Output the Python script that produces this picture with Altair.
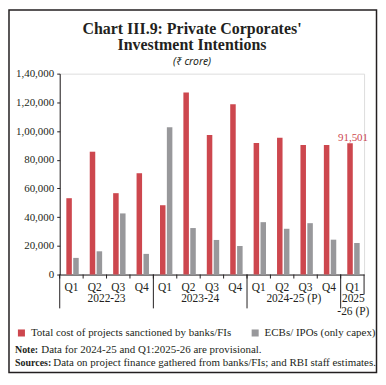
import altair as alt
import pandas as pd

quarters = ["Q1", "Q2", "Q3", "Q4", "Q1", "Q2", "Q3", "Q4", "Q1", "Q2", "Q3", "Q4", "Q1"]
years = ["2022-23"] * 4 + ["2023-24"] * 4 + ["2024-25 (P)"] * 4 + ["2025-26 (P)"]
sanctioned = [53200, 85600, 56700, 70600, 48300, 126800, 97200, 118700, 91600, 95300, 90200, 90200, 91501]
ecb_ipo = [11600, 16200, 42600, 14400, 102700, 32400, 24100, 19900, 36500, 31900, 35800, 24300, 22000]
series_names = ["Total cost of projects sanctioned by banks/FIs", "ECBs/ IPOs (only capex)"]
series_colors = ["#CD474E", "#98989B"]
y_ticks = [0, 20000, 40000, 60000, 80000, 100000, 120000, 140000]
group_names = ["2022-23", "2023-24", "2024-25 (P)"]
group_mid_index = [2, 6, 10]
group_start_index = [0, 4, 8, 12]
last_group_label = "2025\n-26 (P)"

keys = [f"{q}|{y}" for q, y in zip(quarters, years)]
rows = []
for k, a, b in zip(keys, sanctioned, ecb_ipo):
    rows.append({"key": k, "series": series_names[0], "value": a})
    rows.append({"key": k, "series": series_names[1], "value": b})
df = pd.DataFrame(rows)

W, H = 306, 202
SERIF = "Liberation Serif"
INK = "#231F20"

xscale = alt.Scale(domain=keys, paddingInner=0, paddingOuter=0)
yscale = alt.Scale(domain=[0, 140000], nice=False)
x_enc = alt.X("key:N", scale=xscale, sort=keys,
              axis=alt.Axis(title=None, labelExpr="split(datum.label,'|')[0]",
                            ticks=False, labelAngle=0, labelPadding=7,
                            labelFont=SERIF, labelFontSize=11.5, labelColor=INK,
                            domainColor=INK, domainWidth=1))
xoff = alt.XOffset("series:N", sort=series_names,
                   scale=alt.Scale(domain=series_names, paddingInner=0.2, paddingOuter=0.8, align=0.6))

ylabel_expr = ("datum.value == 0 ? '0' : (datum.value >= 100000 ? floor(datum.value/100000) + ',' + "
               "format(floor((datum.value % 100000)/1000), '02') + ',000' : format(datum.value, ','))")
y_axis = alt.Axis(title=None, values=y_ticks, labelExpr=ylabel_expr, grid=False,
                  tickSize=3, tickColor=INK, domainColor=INK, labelFont=SERIF,
                  labelFontSize=11, labelColor=INK, labelPadding=3,
                  labelOverlap=False, labelBound=False)

bars = alt.Chart(df).mark_bar().encode(
    x=x_enc,
    xOffset=xoff,
    y=alt.Y("value:Q", scale=yscale, axis=y_axis),
    color=alt.Color("series:N", sort=series_names,
                    scale=alt.Scale(domain=series_names, range=series_colors),
                    legend=alt.Legend(title=None, orient="none", direction="horizontal",
                                      legendX=-44, legendY=255, symbolType="square",
                                      symbolSize=50, symbolStrokeWidth=0, labelFont=SERIF,
                                      labelFontSize=11, labelColor=INK, columnPadding=18,
                                      symbolOffset=0, labelOffset=4, labelLimit=300)),
)

last_df = df[(df["key"] == keys[-1]) & (df["series"] == series_names[0])]
annot = alt.Chart(last_df).mark_text(dy=-5, dx=3, fontSize=11, font=SERIF, color=series_colors[0]).encode(
    x=alt.X("key:N", scale=xscale, sort=keys),
    xOffset=xoff,
    y=alt.Y("value:Q", scale=yscale, axis=y_axis),
    text=alt.Text("value:Q", format=","),
)

tick_df = pd.DataFrame({"key": keys})
ticks = alt.Chart(tick_df).mark_rule(color=INK, strokeWidth=1).encode(
    x=alt.X("key:N", scale=xscale, sort=keys, bandPosition=0),
    y=alt.value(H), y2=alt.value(H + 4),
)

sep_df = pd.DataFrame({"key": [keys[i] for i in group_start_index]})
seps = alt.Chart(sep_df).mark_rule(color=INK, strokeWidth=1).encode(
    x=alt.X("key:N", scale=xscale, sort=keys, bandPosition=0),
    y=alt.value(H), y2=alt.value(H + 34),
)

end_df = pd.DataFrame({"key": [keys[-1]]})
end_line = alt.Chart(end_df).mark_rule(color=INK, strokeWidth=1).encode(
    x=alt.X("key:N", scale=xscale, sort=keys, bandPosition=1),
    y=alt.value(H), y2=alt.value(H + 20),
)

grp_df = pd.DataFrame({"key": [keys[i] for i in group_mid_index], "label": group_names})
grp = alt.Chart(grp_df).mark_text(font=SERIF, fontSize=11.5, color=INK, baseline="alphabetic").encode(
    x=alt.X("key:N", scale=xscale, sort=keys, bandPosition=0),
    y=alt.value(H + 28),
    text="label:N",
)

last_grp_df = pd.DataFrame({"key": [keys[-1]], "label": [last_group_label]})
last_grp = alt.Chart(last_grp_df).mark_text(font=SERIF, fontSize=11.5, color=INK, baseline="alphabetic",
                                            lineBreak="\n", lineHeight=13, dx=1).encode(
    x=alt.X("key:N", scale=xscale, sort=keys, bandPosition=0.5),
    y=alt.value(H + 28),
    text="label:N",
)

one = pd.DataFrame({"a": [0]})
NOTE_FS = 11
BOLD_FS = 10
note_b = alt.Chart(one).mark_text(font=SERIF, fontSize=BOLD_FS, fontWeight="bold", color=INK, align="left",
                                  baseline="alphabetic").encode(
    x=alt.value(-45), y=alt.value(280.5), text=alt.value("Note:"))
note_t = alt.Chart(one).mark_text(font=SERIF, fontSize=NOTE_FS, color=INK, align="left",
                                  baseline="alphabetic").encode(
    x=alt.value(-18.5), y=alt.value(280.5), text=alt.value("Data for 2024-25 and Q1:2025-26 are provisional."))
src_b = alt.Chart(one).mark_text(font=SERIF, fontSize=BOLD_FS, fontWeight="bold", color=INK, align="left",
                                 baseline="alphabetic").encode(
    x=alt.value(-45), y=alt.value(294), text=alt.value("Sources:"))
src_t = alt.Chart(one).mark_text(font=SERIF, fontSize=NOTE_FS, color=INK, align="left",
                                 baseline="alphabetic").encode(
    x=alt.value(-6.5), y=alt.value(294),
    text=alt.value("Data on project finance gathered from banks/FIs; and RBI staff estimates."))

frame = alt.Chart(one).mark_rect(fill=None, stroke=INK, strokeWidth=1.5, clip=False).encode(
    x=alt.value(-51), x2=alt.value(318.5), y=alt.value(-64), y2=alt.value(300.5))

chart = alt.layer(frame, bars, annot, ticks, seps, end_line, grp, last_grp,
                  note_b, note_t, src_b, src_t).properties(
    width=W, height=H,
    autosize=alt.AutoSizeParams(type="none"),
    padding={"left": 52, "top": 65, "right": 14, "bottom": 99},
    title=alt.TitleParams(
        text=["Chart III.9: Private Corporates'", "Investment Intentions"],
        subtitle="(₹ crore)",
        font=SERIF, fontSize=16, fontWeight="bold", color=INK, lineHeight=16,
        subtitleFont="Noto Sans", subtitleFontSize=10.5, subtitleFontStyle="italic",
        subtitleColor=INK, subtitlePadding=5,
        anchor="middle", dx=-20, offset=-59,
    ),
).configure_view(stroke=None).configure(background="white")

chart.save("out.html", embed_options={"renderer": "svg", "actions": False})
